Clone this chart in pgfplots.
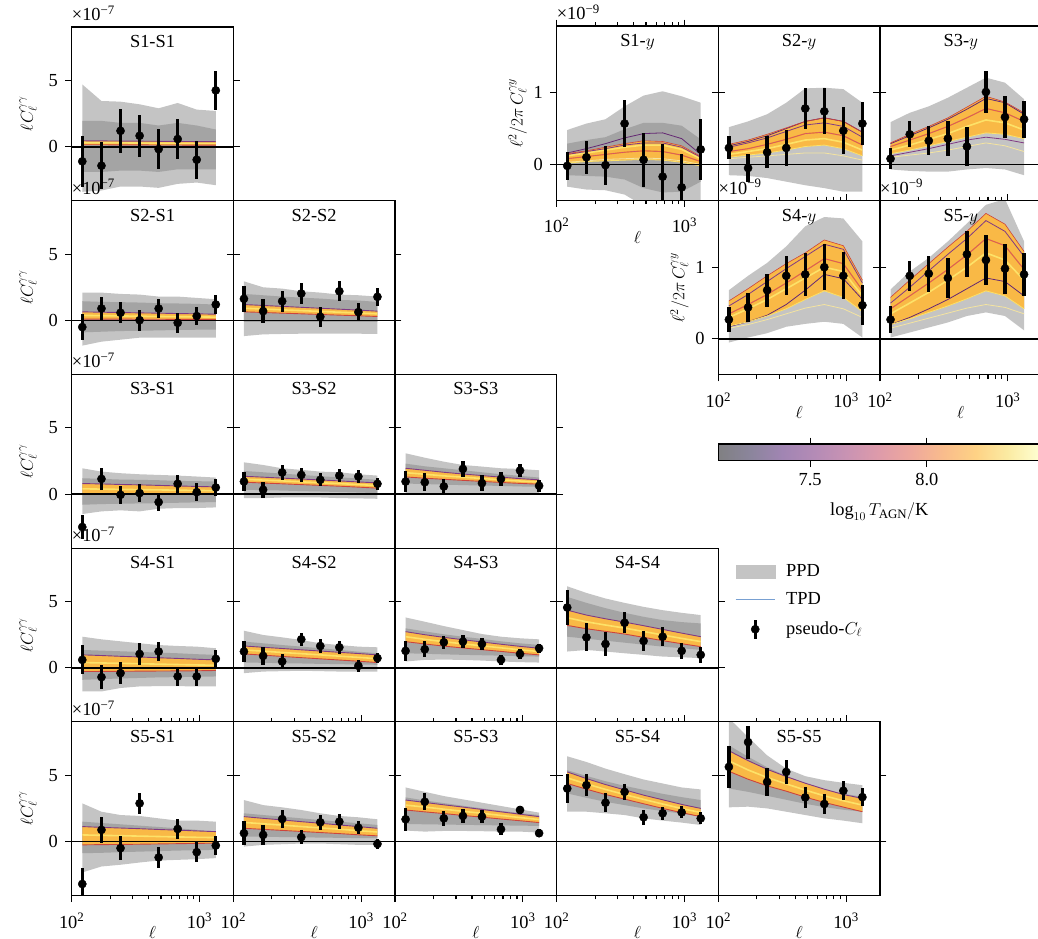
\documentclass[border=0pt]{standalone}
\usepackage{fontspec}
\setmainfont{Liberation Serif}
\usepackage{pgfplots}
\usepackage{pgfplotstable}
\pgfplotsset{compat=1.18}
\usepgfplotslibrary{fillbetween}

\definecolor{ppdo}{RGB}{196,196,196}
\definecolor{ppdi}{RGB}{164,164,164}
\definecolor{tpdor}{RGB}{249,185,70}
\definecolor{tpdyel}{RGB}{253,226,104}
\definecolor{tpdpur}{RGB}{128,58,132}
\definecolor{tpdred}{RGB}{205,68,60}
\definecolor{tpdpale}{RGB}{244,228,160}
\definecolor{tpdpink}{RGB}{212,82,106}
\definecolor{tpddk}{RGB}{100,40,115}
\definecolor{tpdleg}{RGB}{120,160,210}
\definecolor{tpddeep}{RGB}{240,140,40}

\pgfplotstableread{
l y e a b c d t u v
121 -1.10 1.90 -3.40 -1.90 1.95 4.70 0.45 0.30 0.15
171 -1.43 1.75 -3.30 -1.90 1.95 3.45 0.44 0.29 0.15
241 1.20 1.65 -3.00 -1.80 1.80 3.40 0.43 0.29 0.14
340 0.83 1.60 -3.00 -1.80 1.80 3.20 0.42 0.28 0.14
479 -0.18 1.50 -3.10 -1.90 1.60 2.90 0.41 0.27 0.13
675 0.58 1.50 -2.80 -1.70 1.80 3.30 0.40 0.26 0.13
951 -0.98 1.45 -2.70 -1.70 1.60 2.80 0.39 0.25 0.12
1341 4.25 1.45 -2.90 -1.70 1.30 2.70 0.38 0.25 0.12
}\Taa
\pgfplotstableread{
l y e a b c d t u v
121 -0.50 0.95 -1.90 -0.90 1.45 2.10 0.65 0.38 0.10
171 0.90 0.88 -1.60 -0.85 1.40 2.10 0.62 0.36 0.10
241 0.58 0.80 -1.45 -0.80 1.38 2.00 0.60 0.34 0.10
340 0.02 0.80 -1.30 -0.78 1.35 1.95 0.57 0.32 0.09
479 0.90 0.75 -1.30 -0.75 1.30 1.80 0.55 0.30 0.09
675 -0.18 0.75 -1.30 -0.72 1.28 1.80 0.52 0.28 0.08
951 0.33 0.70 -1.30 -0.70 1.25 1.70 0.50 0.27 0.08
1341 1.20 0.70 -1.30 -0.70 1.20 1.60 0.47 0.25 0.08
}\Tba
\pgfplotstableread{
l y e a b c d t u v
121 1.63 1.00 -1.18 -0.10 2.00 2.95 1.20 0.92 0.65
171 0.70 0.88 -1.05 -0.10 1.90 2.50 1.13 0.86 0.60
241 1.45 0.80 -1.02 -0.10 1.80 2.40 1.06 0.80 0.55
340 2.03 0.78 -1.00 -0.10 1.72 2.20 0.99 0.74 0.50
479 0.28 0.75 -1.00 -0.10 1.65 2.10 0.92 0.68 0.45
675 2.20 0.75 -1.00 -0.10 1.55 1.95 0.85 0.62 0.40
951 0.63 0.70 -1.00 -0.10 1.50 1.90 0.78 0.56 0.35
1341 1.78 0.70 -1.02 -0.10 1.40 1.80 0.70 0.50 0.30
}\Tbb
\pgfplotstableread{
l y e a b c d t u v
121 -2.48 0.88 -1.50 -0.80 1.20 1.95 0.80 0.40 -0.05
171 1.15 0.80 -1.30 -0.75 1.15 1.70 0.77 0.38 -0.05
241 -0.05 0.70 -1.22 -0.72 1.10 1.58 0.73 0.36 -0.05
340 0.08 0.70 -1.30 -0.70 1.08 1.50 0.70 0.34 -0.05
479 -0.60 0.68 -1.10 -0.68 1.05 1.45 0.66 0.32 -0.05
675 0.78 0.68 -1.05 -0.65 1.00 1.40 0.62 0.30 -0.05
951 0.15 0.68 -1.05 -0.62 0.98 1.33 0.58 0.28 -0.05
1341 0.50 0.62 -1.00 -0.60 0.95 1.25 0.55 0.26 -0.05
}\Tca
\pgfplotstableread{
l y e a b c d t u v
121 0.95 0.72 -0.30 0.33 1.75 2.40 1.35 1.12 0.90
171 0.33 0.60 -0.30 0.30 1.65 2.20 1.28 1.06 0.84
241 1.63 0.55 -0.25 0.27 1.55 1.95 1.21 1.00 0.78
340 1.45 0.55 -0.25 0.23 1.45 1.83 1.14 0.93 0.72
479 1.08 0.50 -0.25 0.20 1.35 1.70 1.07 0.86 0.66
675 1.40 0.50 -0.30 0.16 1.27 1.65 1.00 0.80 0.60
951 1.33 0.50 -0.32 0.12 1.18 1.50 0.92 0.72 0.53
1341 0.78 0.45 -0.35 0.08 1.08 1.40 0.85 0.65 0.45
}\Tcb
\pgfplotstableread{
l y e a b c d t u v
121 0.95 0.80 0.05 0.80 2.30 3.08 1.95 1.62 1.30
171 0.90 0.70 0.02 0.76 2.10 2.75 1.80 1.50 1.20
241 0.58 0.60 0.00 0.72 1.95 2.45 1.65 1.38 1.12
340 1.90 0.58 -0.02 0.68 1.80 2.20 1.52 1.28 1.04
479 0.83 0.58 -0.03 0.65 1.65 2.08 1.40 1.18 0.96
675 1.15 0.55 -0.04 0.62 1.50 1.95 1.28 1.08 0.88
951 1.78 0.50 -0.05 0.58 1.38 1.90 1.17 0.99 0.81
1341 0.63 0.45 -0.05 0.55 1.25 1.80 1.08 0.91 0.75
}\Tcc
\pgfplotstableread{
l y e a b c d t u v
121 0.60 1.10 -1.78 -0.90 1.35 2.35 0.98 0.40 -0.28
171 -0.70 0.88 -1.78 -0.85 1.30 2.15 0.93 0.37 -0.27
241 -0.40 0.83 -1.52 -0.80 1.25 2.00 0.87 0.34 -0.26
340 1.05 0.80 -1.40 -0.76 1.20 1.85 0.82 0.31 -0.25
479 1.23 0.75 -1.38 -0.72 1.15 1.72 0.76 0.28 -0.24
675 -0.65 0.75 -1.38 -0.70 1.10 1.65 0.71 0.25 -0.23
951 -0.65 0.72 -1.40 -0.67 1.03 1.60 0.65 0.22 -0.22
1341 0.68 0.68 -1.40 -0.65 0.98 1.48 0.60 0.20 -0.20
}\Tda
\pgfplotstableread{
l y e a b c d t u v
121 1.23 0.80 -0.40 0.40 1.98 2.80 1.65 1.35 1.05
171 0.90 0.65 -0.28 0.38 1.85 2.48 1.55 1.26 0.96
241 0.48 0.58 -0.25 0.35 1.72 2.30 1.46 1.16 0.86
340 2.15 0.50 -0.22 0.33 1.60 2.10 1.36 1.07 0.77
479 1.65 0.50 -0.25 0.30 1.48 1.85 1.27 0.98 0.68
675 1.55 0.50 -0.28 0.28 1.35 1.72 1.17 0.88 0.59
951 0.15 0.45 -0.28 0.25 1.22 1.60 1.08 0.79 0.50
1341 0.73 0.40 -0.28 0.23 1.10 1.55 0.98 0.69 0.40
}\Tdb
\pgfplotstableread{
l y e a b c d t u v
121 1.28 0.75 0.48 1.10 2.98 3.80 2.73 2.35 1.98
171 1.40 0.60 0.60 1.06 2.75 3.48 2.50 2.15 1.80
241 1.93 0.50 0.62 1.02 2.53 3.15 2.30 1.97 1.64
340 1.98 0.47 0.60 0.98 2.35 2.85 2.12 1.81 1.50
479 1.80 0.45 0.55 0.95 2.18 2.55 1.95 1.66 1.37
675 0.60 0.40 0.48 0.92 2.00 2.35 1.78 1.51 1.24
951 1.05 0.37 0.43 0.88 1.85 2.23 1.62 1.36 1.10
1341 1.48 0.35 0.40 0.85 1.73 2.15 1.48 1.23 0.98
}\Tdc
\pgfplotstableread{
l y e a b c d t u v
121 4.55 1.30 1.23 2.35 5.35 6.15 4.35 3.78 3.20
171 2.30 1.05 1.35 2.20 4.90 5.65 3.98 3.47 2.95
241 1.80 0.88 1.23 2.05 4.50 5.23 3.70 3.23 2.75
340 3.40 0.78 1.10 1.90 4.15 4.90 3.45 3.00 2.55
479 2.03 0.73 0.98 1.75 3.85 4.60 3.18 2.74 2.30
675 2.35 0.70 0.85 1.60 3.60 4.35 2.90 2.48 2.05
951 1.28 0.63 0.80 1.48 3.45 4.15 2.62 2.22 1.82
1341 0.98 0.63 0.73 1.35 3.35 3.98 2.35 1.98 1.60
}\Tdd
\pgfplotstableread{
l y e a b c d t u v
121 -3.20 1.20 -2.33 -0.88 1.50 2.88 1.13 0.50 -0.25
171 0.88 1.00 -1.88 -0.85 1.40 2.25 1.07 0.47 -0.23
241 -0.50 0.92 -1.75 -0.80 1.30 2.00 1.02 0.44 -0.22
340 2.88 0.80 -1.58 -0.76 1.20 1.93 0.97 0.41 -0.20
479 -1.20 0.78 -1.43 -0.72 1.10 1.75 0.91 0.38 -0.18
675 0.95 0.75 -1.38 -0.68 1.00 1.58 0.86 0.35 -0.16
951 -0.80 0.73 -1.33 -0.65 0.88 1.58 0.80 0.32 -0.14
1341 -0.30 0.70 -1.25 -0.63 0.75 1.50 0.75 0.30 -0.12
}\Tea
\pgfplotstableread{
l y e a b c d t u v
121 0.63 0.90 -0.38 0.38 2.13 3.13 1.88 1.44 1.00
171 0.50 0.75 -0.25 0.36 2.00 2.75 1.75 1.34 0.92
241 1.70 0.65 -0.20 0.34 1.88 2.58 1.63 1.24 0.84
340 0.33 0.55 -0.15 0.32 1.75 2.38 1.50 1.13 0.76
479 1.45 0.55 -0.15 0.30 1.62 2.13 1.38 1.03 0.68
675 1.50 0.55 -0.20 0.28 1.50 1.93 1.25 0.93 0.60
951 1.05 0.50 -0.25 0.26 1.38 1.83 1.13 0.82 0.51
1341 -0.18 0.40 -0.25 0.25 1.25 1.68 1.00 0.72 0.43
}\Teb
\pgfplotstableread{
l y e a b c d t u v
121 1.68 0.85 0.83 1.33 3.33 4.08 3.13 2.75 2.38
171 3.00 0.65 0.75 1.30 3.10 3.75 2.95 2.60 2.24
241 1.75 0.58 0.80 1.28 2.90 3.43 2.77 2.44 2.11
340 1.93 0.50 0.80 1.26 2.70 3.18 2.60 2.28 1.97
479 1.88 0.50 0.78 1.24 2.50 2.93 2.42 2.13 1.84
675 0.93 0.45 0.75 1.22 2.32 2.68 2.24 1.97 1.70
951 2.38 0.30 0.75 1.20 2.15 2.43 2.06 1.81 1.57
1341 0.63 0.30 0.68 1.18 2.00 2.18 1.88 1.66 1.43
}\Tec
\pgfplotstableread{
l y e a b c d t u v
121 4.00 1.10 2.25 3.63 5.38 6.43 5.25 4.80 4.38
171 4.25 0.85 2.25 3.30 4.95 6.00 4.75 4.35 3.95
241 2.93 0.70 2.13 3.00 4.55 5.50 4.30 3.93 3.55
340 3.75 0.60 2.00 2.75 4.20 5.08 3.90 3.55 3.20
479 1.83 0.55 1.75 2.50 3.90 4.68 3.50 3.18 2.85
675 2.13 0.50 1.58 2.30 3.60 4.38 3.15 2.83 2.50
951 2.20 0.45 1.43 2.10 3.35 4.08 2.80 2.49 2.18
1341 1.75 0.45 1.25 1.88 3.13 3.93 2.50 2.19 1.88
}\Ted
\pgfplotstableread{
l y e a b c d t u v
121 5.63 1.60 2.58 4.00 7.25 9.30 6.85 6.08 5.30
171 7.50 1.25 2.63 3.75 6.40 7.88 6.10 5.40 4.70
241 4.50 1.03 2.50 3.45 5.60 6.50 5.45 4.83 4.20
340 5.25 0.90 2.25 3.15 4.95 5.50 4.90 4.35 3.80
479 3.33 0.78 2.00 2.85 4.40 4.93 4.40 3.88 3.35
675 2.83 0.75 1.75 2.60 3.95 4.63 3.95 3.45 2.95
951 3.83 0.70 1.58 2.40 3.60 4.43 3.55 3.08 2.60
1341 3.35 0.66 1.38 2.25 3.38 4.25 3.25 2.75 2.25
}\Tee

\pgfplotstableread{
l y e a b c d h w m1 m2 m4 m3 m5
121 -0.02 0.19 -0.31 -0.15 0.29 0.48 0.15 0.02 0.16 0.14 0.08 0.03 0.12
171 0.10 0.23 -0.35 -0.16 0.34 0.57 0.19 0.04 0.22 0.18 0.11 0.05 0.16
241 -0.01 0.27 -0.36 -0.17 0.38 0.63 0.24 0.05 0.29 0.22 0.14 0.07 0.20
340 0.57 0.33 -0.42 -0.21 0.49 0.81 0.29 0.06 0.37 0.27 0.17 0.08 0.24
479 0.065 0.38 -0.58 -0.33 0.58 0.96 0.33 0.07 0.43 0.30 0.19 0.09 0.27
675 -0.17 0.45 -0.60 -0.39 0.58 1.02 0.32 0.06 0.44 0.30 0.18 0.08 0.27
951 -0.32 0.47 -0.60 -0.38 0.54 0.95 0.26 0.03 0.36 0.24 0.13 0.05 0.21
1341 0.21 0.43 -0.60 -0.24 0.35 0.86 0.11 -0.02 0.14 0.10 0.04 0.00 0.08
}\Ya
\pgfplotstableread{
l y e a b c d h w m1 m2 m4 m3 m5
121 0.23 0.16 -0.15 0.10 0.28 0.52 0.28 0.10 0.26 0.24 0.18 0.08 0.14
171 -0.05 0.19 -0.16 0.13 0.34 0.60 0.34 0.13 0.32 0.30 0.22 0.10 0.18
241 0.17 0.22 -0.19 0.16 0.42 0.70 0.42 0.16 0.40 0.37 0.28 0.12 0.22
340 0.23 0.25 -0.24 0.20 0.51 0.86 0.51 0.20 0.50 0.46 0.35 0.14 0.28
479 0.78 0.29 -0.29 0.25 0.60 1.06 0.60 0.25 0.60 0.55 0.43 0.16 0.34
675 0.74 0.32 -0.33 0.27 0.65 1.07 0.65 0.27 0.65 0.58 0.45 0.16 0.36
951 0.47 0.33 -0.38 0.22 0.60 1.05 0.60 0.22 0.60 0.53 0.40 0.12 0.31
1341 0.57 0.30 -0.38 0.12 0.45 0.86 0.45 0.12 0.45 0.38 0.27 0.06 0.20
}\Yb
\pgfplotstableread{
l y e a b c d h w m1 m2 m3 m4 m5
121 0.08 0.15 -0.07 0.15 0.30 0.59 0.30 0.15 0.29 0.12 0.10 0.25 0.20
171 0.42 0.18 -0.09 0.20 0.42 0.72 0.42 0.20 0.40 0.17 0.13 0.34 0.27
241 0.33 0.20 -0.10 0.26 0.53 0.81 0.53 0.26 0.51 0.22 0.16 0.43 0.35
340 0.36 0.24 -0.10 0.32 0.65 0.93 0.65 0.32 0.63 0.28 0.20 0.53 0.43
479 0.25 0.27 -0.07 0.38 0.80 1.07 0.80 0.38 0.77 0.34 0.25 0.65 0.53
675 1.01 0.29 -0.05 0.44 0.95 1.21 0.95 0.44 0.92 0.38 0.30 0.78 0.62
951 0.66 0.29 -0.07 0.42 0.87 1.14 0.87 0.42 0.86 0.35 0.26 0.72 0.58
1341 0.63 0.26 -0.15 0.36 0.72 0.91 0.72 0.36 0.70 0.30 0.18 0.60 0.48
}\Yc
\pgfplotstableread{
l y e a b c d h w m1 m2 m3 m4 m5
121 0.27 0.18 -0.05 0.18 0.53 0.68 0.53 0.18 0.17 0.46 0.15 0.35 0.30
171 0.44 0.20 0.02 0.24 0.70 0.88 0.70 0.24 0.24 0.62 0.20 0.48 0.42
241 0.68 0.23 0.08 0.32 0.88 1.06 0.88 0.32 0.33 0.80 0.27 0.62 0.55
340 0.88 0.27 0.17 0.42 1.05 1.29 1.05 0.42 0.48 0.98 0.35 0.78 0.70
479 0.90 0.30 0.21 0.55 1.20 1.57 1.20 0.55 0.68 1.15 0.43 0.95 0.85
675 1.00 0.32 0.24 0.67 1.38 1.70 1.38 0.67 0.90 1.32 0.48 1.12 1.00
951 0.88 0.33 0.21 0.58 1.30 1.68 1.30 0.58 0.84 1.25 0.42 1.05 0.94
1341 0.47 0.28 0.02 0.38 0.82 1.36 0.82 0.38 0.55 0.78 0.30 0.68 0.60
}\Yd
\pgfplotstableread{
l y e a b c d h w m1 m2 m3 m4 m5
121 0.27 0.19 0.02 0.20 0.58 0.69 0.58 0.20 0.20 0.50 0.15 0.42 0.35
171 0.88 0.21 0.09 0.28 0.82 0.94 0.82 0.28 0.30 0.72 0.22 0.60 0.50
241 0.91 0.25 0.16 0.37 1.05 1.13 1.05 0.37 0.42 0.95 0.29 0.78 0.65
340 0.85 0.28 0.23 0.46 1.28 1.36 1.28 0.46 0.55 1.18 0.36 0.97 0.82
479 1.18 0.32 0.32 0.56 1.50 1.61 1.50 0.56 0.70 1.40 0.43 1.17 1.00
675 1.10 0.35 0.37 0.67 1.75 1.87 1.75 0.67 0.85 1.65 0.48 1.40 1.20
951 0.98 0.35 0.32 0.60 1.60 1.95 1.60 0.60 0.80 1.50 0.44 1.30 1.10
1341 0.90 0.30 0.12 0.42 1.22 1.36 1.22 0.42 0.60 1.15 0.35 0.97 0.82
}\Ye

\pgfplotsset{
  colormap={infa}{rgb255=(128,128,130) rgb255=(139,133,156) rgb255=(161,133,179) rgb255=(180,139,182) rgb255=(201,147,179) rgb255=(222,155,170) rgb255=(238,168,157) rgb255=(249,188,140) rgb255=(254,210,133) rgb255=(251,235,163) rgb255=(254,255,210)},
}

\newcommand{\ppd}[1]{%
  \addplot[draw=none, name path=pA] table[x=l,y=a]{#1};
  \addplot[draw=none, name path=pD] table[x=l,y=d]{#1};
  \addplot[fill=ppdo, draw=none] fill between[of=pA and pD];
  \addplot[draw=none, name path=pB] table[x=l,y=b]{#1};
  \addplot[draw=none, name path=pC] table[x=l,y=c]{#1};
  \addplot[fill=ppdi, draw=none] fill between[of=pB and pC];
}
\newcommand{\zdat}[1]{%
  \addplot[black, line width=1.6pt] coordinates {(90,0) (2000,0)};
  \addplot[only marks, mark=*, mark size=4.1pt, black, mark options={fill=black},
    error bars/.cd, y dir=both, y explicit, error mark=none,
    error bar style={line width=3.3pt, black}] table[x=l, y=y, y error=e]{#1};
}
\newcommand{\ggpanel}[1]{%
  \ppd{#1}
  \addplot[draw=none, name path=pT] table[x=l,y=t]{#1};
  \addplot[draw=none, name path=pV] table[x=l,y=v]{#1};
  \addplot[fill=tpdor, draw=none] fill between[of=pT and pV];
  \addplot[tpdyel, line width=1.6pt] table[x=l,y=u]{#1};
  \addplot[tpdpur, line width=0.9pt] table[x=l,y=t]{#1};
  \addplot[tpdred, line width=0.9pt] table[x=l,y=v]{#1};
  \zdat{#1}
}
\newcommand{\gypanel}[1]{%
  \ppd{#1}
  \addplot[draw=none, name path=pH] table[x=l,y=h]{#1};
  \addplot[draw=none, name path=pW] table[x=l,y=w]{#1};
  \addplot[fill=tpdor, draw=none] fill between[of=pH and pW];
  \addplot[tpdpale, line width=0.8pt] table[x=l,y=m3]{#1};
  \addplot[tpdyel, line width=1.6pt] table[x=l,y=m5]{#1};
  \addplot[tpddeep, line width=1.2pt] table[x=l,y=m4]{#1};
  \addplot[tpdpink, line width=0.6pt] table[x=l,y=m4]{#1};
  \addplot[tpddk, line width=0.8pt] table[x=l,y=m1]{#1};
  \addplot[tpdpur, line width=0.8pt] table[x=l,y=m2]{#1};
  \addplot[tpdred, line width=0.6pt] table[x=l,y=h]{#1};
  \addplot[tpdyel, line width=0.8pt] table[x=l,y=w]{#1};
  \zdat{#1}
}

\newcommand{\GGI}[4]{%
\begin{axis}[scale only axis, width=161.65pt, height=173.7pt, xmode=log, xmin=100, xmax=1840,
  ymin=-4.07, ymax=9.03, ytick={0,5}, yticklabels={}, anchor=north west, axis on top,
  axis line style={line width=1.2pt}, tick style={black, line width=1.1pt},
  tick align=outside, major tick length=6.5pt, minor tick length=3.8pt, xtick=\empty,
  title style={at={(0.5,1)}, anchor=north, yshift=-8pt},
  at={(#1pt,-#2pt)}, title={#3}]
\ggpanel{#4}
\end{axis}}
\newcommand{\GGL}[4]{%
\begin{axis}[scale only axis, width=161.65pt, height=173.7pt, xmode=log, xmin=100, xmax=1840,
  ymin=-4.07, ymax=9.03, ytick={0,5}, yticklabels={0,5}, anchor=north west, axis on top,
  axis line style={line width=1.2pt}, tick style={black, line width=1.1pt},
  tick align=outside, major tick length=6.5pt, minor tick length=3.8pt, xtick=\empty,
  title style={at={(0.5,1)}, anchor=north, yshift=-8pt},
  yticklabel style={xshift=-1pt},
  ylabel={$\ell C_\ell^{\gamma\gamma}$},
  ylabel style={at={(axis description cs:-0.27,0.5)}, anchor=center},
  extra description/.code={\node[anchor=base west, inner sep=0pt, yshift=6.5pt] at (0,1) {×10\textsuperscript{−7}};},
  at={(#1pt,-#2pt)}, title={#3}]
\ggpanel{#4}
\end{axis}}
\newcommand{\GGB}[4]{%
\begin{axis}[scale only axis, width=161.65pt, height=173.7pt, xmode=log, xmin=100, xmax=1840,
  ymin=-4.07, ymax=9.03, ytick={0,5}, yticklabels={}, anchor=north west, axis on top,
  axis line style={line width=1.2pt}, tick style={black, line width=1.1pt},
  tick align=outside, major tick length=6.5pt, minor tick length=3.8pt,
  xtick={100,1000}, xticklabels={10\textsuperscript{2},10\textsuperscript{3}},
  minor xtick={200,300,400,500,600,700,800,900}, xlabel={$\ell$},
  xticklabel style={yshift=-5pt}, xlabel style={yshift=14pt},
  title style={at={(0.5,1)}, anchor=north, yshift=-8pt},
  at={(#1pt,-#2pt)}, title={#3}]
\ggpanel{#4}
\end{axis}}
\newcommand{\GGLB}[4]{%
\begin{axis}[scale only axis, width=161.65pt, height=173.7pt, xmode=log, xmin=100, xmax=1840,
  ymin=-4.07, ymax=9.03, ytick={0,5}, yticklabels={0,5}, anchor=north west, axis on top,
  axis line style={line width=1.2pt}, tick style={black, line width=1.1pt},
  tick align=outside, major tick length=6.5pt, minor tick length=3.8pt,
  xtick={100,1000}, xticklabels={10\textsuperscript{2},10\textsuperscript{3}},
  minor xtick={200,300,400,500,600,700,800,900}, xlabel={$\ell$},
  xticklabel style={yshift=-5pt}, xlabel style={yshift=14pt},
  title style={at={(0.5,1)}, anchor=north, yshift=-8pt},
  yticklabel style={xshift=-1pt},
  ylabel={$\ell C_\ell^{\gamma\gamma}$},
  ylabel style={at={(axis description cs:-0.27,0.5)}, anchor=center},
  extra description/.code={\node[anchor=base west, inner sep=0pt, yshift=6.5pt] at (0,1) {×10\textsuperscript{−7}};},
  at={(#1pt,-#2pt)}, title={#3}]
\ggpanel{#4}
\end{axis}}
\newcommand{\GYI}[4]{%
\begin{axis}[scale only axis, width=161.65pt, height=174.3pt, xmode=log, xmin=100, xmax=1840,
  ymin=-0.5, ymax=1.93, ytick={0,1}, yticklabels={}, anchor=north west, axis on top,
  axis line style={line width=1.2pt}, tick style={black, line width=1.1pt},
  tick align=outside, major tick length=6.5pt, minor tick length=3.8pt, xtick=\empty,
  title style={at={(0.5,1)}, anchor=north, yshift=-8pt},
  at={(#1pt,-#2pt)}, title={#3}]
\gypanel{#4}
\end{axis}}
\newcommand{\GYLB}[4]{%
\begin{axis}[scale only axis, width=161.65pt, height=174.3pt, xmode=log, xmin=100, xmax=1840,
  ymin=-0.5, ymax=1.93, ytick={0,1}, yticklabels={0,1}, anchor=north west, axis on top,
  axis line style={line width=1.2pt}, tick style={black, line width=1.1pt},
  tick align=outside, major tick length=6.5pt, minor tick length=3.8pt,
  xtick={100,1000}, xticklabels={10\textsuperscript{2},10\textsuperscript{3}},
  minor xtick={200,300,400,500,600,700,800,900}, xlabel={$\ell$},
  xticklabel style={yshift=-5pt}, xlabel style={yshift=14pt},
  title style={at={(0.5,1)}, anchor=north, yshift=-8pt},
  yticklabel style={xshift=-1pt},
  ylabel={$\ell^2/2\pi\, C_\ell^{\gamma y}$},
  ylabel style={at={(axis description cs:-0.24,0.5)}, anchor=center},
  extra description/.code={\node[anchor=base west, inner sep=0pt, yshift=6.5pt] at (0,1) {×10\textsuperscript{−9}};},
  at={(#1pt,-#2pt)}, title={#3}]
\gypanel{#4}
\end{axis}}
\newcommand{\GYMB}[4]{%
\begin{axis}[scale only axis, width=161.65pt, height=174.3pt, xmode=log, xmin=100, xmax=1840,
  ymin=-0.5, ymax=1.93, ytick={0,1}, yticklabels={}, anchor=north west, axis on top,
  axis line style={line width=1.2pt}, tick style={black, line width=1.1pt},
  tick align=outside, major tick length=6.5pt, minor tick length=3.8pt,
  xtick={100,1000}, xticklabels={10\textsuperscript{2},10\textsuperscript{3}},
  minor xtick={200,300,400,500,600,700,800,900}, xlabel={$\ell$},
  xticklabel style={yshift=-5pt}, xlabel style={yshift=14pt},
  title style={at={(0.5,1)}, anchor=north, yshift=-8pt},
  extra description/.code={\node[anchor=base west, inner sep=0pt, yshift=6.5pt] at (0,1) {×10\textsuperscript{−9}};},
  at={(#1pt,-#2pt)}, title={#3}]
\gypanel{#4}
\end{axis}}

\begin{document}
\fontsize{18.4}{22}\selectfont
\begin{tikzpicture}

\GGL{71.7}{27}{S1-S1}{\Taa}
\GGL{71.7}{200.7}{S2-S1}{\Tba}
\GGI{233.35}{200.7}{S2-S2}{\Tbb}
\GGL{71.7}{374.4}{S3-S1}{\Tca}
\GGI{233.35}{374.4}{S3-S2}{\Tcb}
\GGI{395}{374.4}{S3-S3}{\Tcc}
\GGL{71.7}{548.1}{S4-S1}{\Tda}
\GGI{233.35}{548.1}{S4-S2}{\Tdb}
\GGI{395}{548.1}{S4-S3}{\Tdc}
\begin{axis}[scale only axis, width=161.65pt, height=173.7pt, xmode=log, xmin=100, xmax=1840,
  ymin=-4.07, ymax=9.03, ytick={0,5}, yticklabels={}, anchor=north west, axis on top,
  axis line style={line width=1.2pt}, tick style={black, line width=1.1pt},
  tick align=outside, major tick length=6.5pt, minor tick length=3.8pt, xtick=\empty,
  title style={at={(0.5,1)}, anchor=north, yshift=-8pt},
  at={(556.65pt,-548.1pt)}, title={S4-S4},
  legend style={at={(1.085,0.93)}, anchor=north west, draw=none, fill=none,
    row sep=9pt, /tikz/every odd column/.style={column sep=9pt}},
  legend cell align=left,
  legend entries={PPD, TPD, pseudo-$C_\ell$}]
\addlegendimage{legend image code/.code={\fill[ppdo] (0pt,-6.5pt) rectangle (39pt,6.5pt);}}
\addlegendimage{legend image code/.code={\draw[tpdleg, line width=1pt] (0pt,0pt) -- (39pt,0pt);}}
\addlegendimage{legend image code/.code={\draw[black, line width=3.3pt] (19.5pt,-9.5pt) -- (19.5pt,9.5pt); \fill[black] (19.5pt,0pt) circle (4.1pt);}}
\ggpanel{\Tdd}
\end{axis}
\GGLB{71.7}{721.8}{S5-S1}{\Tea}
\GGB{233.35}{721.8}{S5-S2}{\Teb}
\GGB{395}{721.8}{S5-S3}{\Tec}
\GGB{556.65}{721.8}{S5-S4}{\Ted}
\GGB{718.3}{721.8}{S5-S5}{\Tee}

\GYLB{556.65}{26}{S1-$y$}{\Ya}
\GYI{718.3}{26}{S2-$y$}{\Yb}
\GYI{879.95}{26}{S3-$y$}{\Yc}
\GYLB{718.3}{200.5}{S4-$y$}{\Yd}
\GYMB{879.95}{200.5}{S5-$y$}{\Ye}

\begin{axis}[at={(718.3pt,-444pt)}, anchor=north west, scale only axis,
  width=322pt, height=16.7pt, xmin=7.107, xmax=8.486, ymin=0, ymax=1,
  ytick=\empty, xtick={7.5,8.0}, xticklabels={7.5,8.0},
  tick align=outside, major tick length=6.5pt,
  tick style={black, line width=1.1pt}, axis line style={line width=1.2pt},
  axis on top, enlargelimits=false,
  xlabel={$\log_{10} T_{\mathrm{AGN}}/\mathrm{K}$}, xlabel style={yshift=-4pt},
  colormap name=infa, point meta min=7.107, point meta max=8.486]
\addplot[surf, shader=interp, point meta=x, mesh/rows=2, mesh/cols=2]
  coordinates {(7.107,0) (8.486,0) (7.107,1) (8.486,1)};
\end{axis}

\pgfresetboundingbox
\path[use as bounding box] (0,0) rectangle (1038pt,-938pt);
\end{tikzpicture}
\end{document}
